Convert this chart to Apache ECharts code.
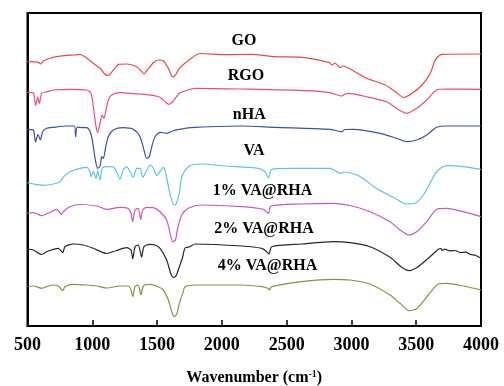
<!DOCTYPE html>
<html>
<head>
<meta charset="utf-8">
<script src="https://cdn.jsdelivr.net/npm/echarts@6/dist/echarts.min.js"></script>
<style>
  html, body { margin: 0; padding: 0; background: #fff; }
  #main { width: 504px; height: 386px; }
</style>
</head>
<body>
<div id="main"></div>
<script>
// FTIR spectra, [wavenumber, offset transmittance (a.u.)]
const goData = [[500,264.3],[583,263.7],[602,262],[622,265],[674,267.7],[725,269.3],[803,270.7],[867,271],[905,271.7],[944,269.3],[1008,262.7],[1060,257.7],[1098,251.7],[1124,250.5],[1142,252.7],[1175,257.7],[1201,261.7],[1266,262],[1343,259.3],[1381,254.3],[1399,252],[1420,255],[1471,263.3],[1510,266],[1548,265.3],[1587,257.7],[1621,249],[1646,251.7],[1672,257.7],[1754,266.7],[1831,272.5],[2024,271.3],[2233,271.7],[2410,269.3],[2619,268.7],[2825,263.7],[2850,261],[2873,263],[2914,258.3],[2935,260],[3005,256],[3107,248.3],[3261,241],[3339,234.3],[3406,228.5],[3468,232.7],[3545,241],[3609,252.7],[3647,266],[3699,271.7],[4000,272]];
const rgoData = [[500,233.7],[545,233.3],[563,220.5],[579,229],[591,222.5],[610,232.7],[648,234.3],[699,236],[828,236.7],[957,236],[990,232.7],[1008,219.3],[1029,199.3],[1042,193.5],[1060,202.7],[1077,211],[1090,207.7],[1106,216],[1124,226],[1150,231],[1214,233.3],[1291,232.7],[1368,232],[1445,231],[1523,228.7],[1574,222.7],[1592,221.7],[1625,225],[1672,232.7],[1741,236],[1793,237.7],[2153,237],[2667,235.3],[2835,233.3],[2925,230],[2950,232],[2989,232.7],[3092,230],[3272,224.3],[3349,217.7],[3427,212.7],[3504,217.7],[3581,226],[3658,236],[3735,237],[4000,236.7]];
const nhaData = [[500,196.7],[545,196],[562,184],[581,191.5],[599,186],[617,194.3],[648,197.7],[699,198.7],[803,200],[861,200],[872,189.3],[884,198.7],[957,198.3],[988,192.7],[1008,179.3],[1026,164.3],[1042,157.7],[1060,160],[1073,169.3],[1085,167.7],[1104,179.3],[1124,189.3],[1162,196],[1239,198.3],[1317,196.7],[1368,189.3],[1399,176],[1420,167.7],[1440,169.3],[1459,179.3],[1484,189.3],[1523,193.7],[1574,192.7],[1625,195.3],[1672,196.7],[1716,197.7],[1793,198.7],[2153,200],[2410,198.7],[2835,196.7],[2925,194.3],[2950,196.5],[3014,196.7],[3221,192.7],[3349,187.7],[3427,184.3],[3504,186],[3581,191],[3658,198.7],[3735,200],[4000,200]];
const vaData = [[500,143.3],[545,142],[622,140.7],[699,142],[751,144.3],[776,149],[828,154.3],[905,157.7],[957,158.7],[982,154.3],[990,149.3],[1008,154.3],[1029,147.5],[1042,155],[1060,146],[1077,157.7],[1111,159.3],[1150,159.3],[1175,157.7],[1214,147],[1239,156],[1266,159.3],[1291,154.3],[1317,148.7],[1343,157.7],[1368,157.7],[1389,148.7],[1415,154.3],[1445,161],[1471,157.7],[1497,150.5],[1523,154.3],[1548,158.7],[1561,156],[1587,140],[1608,128],[1631,121],[1646,122],[1672,132.7],[1690,149],[1729,157.7],[1767,161],[1845,162],[2024,160],[2281,157.7],[2333,154.3],[2359,148],[2385,156.7],[2539,157.7],[2835,157.7],[2914,152.7],[2950,154],[3041,151],[3107,146],[3182,138.5],[3261,132.7],[3349,126.7],[3427,122],[3491,122.7],[3555,131],[3620,146],[3658,154.3],[3735,160.3],[3864,159.3],[4000,156.7]];
const va1Data = [[500,112.7],[545,113.3],[610,110.3],[674,113.7],[725,116.7],[764,111.5],[776,114.3],[828,119.3],[905,121.5],[1034,120],[1111,116.7],[1214,118.7],[1278,117.5],[1299,112.7],[1312,104.3],[1330,116],[1355,117.7],[1374,106.5],[1389,116],[1420,118.7],[1471,118.3],[1523,114.3],[1574,106],[1600,92.7],[1621,84.3],[1642,86],[1656,96],[1690,111],[1741,117.7],[1845,121],[2153,119.3],[2320,116.7],[2359,112.7],[2379,120],[2616,122],[2860,122.7],[3005,120],[3143,114.3],[3298,104.3],[3375,96],[3441,91],[3504,94.3],[3581,104.3],[3658,116.7],[3735,117.7],[3864,114.3],[4000,109.3]];
const va2Data = [[500,77],[545,76],[610,71.5],[648,74.3],[699,76.7],[738,77.7],[772,73.3],[789,79.3],[853,82],[931,81],[1008,77.7],[1111,72.5],[1188,75.5],[1266,78.3],[1299,76],[1312,67],[1330,79.3],[1355,81],[1381,69],[1399,79.3],[1445,81.7],[1484,81],[1523,77.7],[1574,66],[1605,52.7],[1625,48.7],[1646,50],[1672,59.3],[1698,69.3],[1716,78],[1754,79.3],[1793,82],[2153,80],[2307,77.7],[2346,74.3],[2364,72],[2385,79.3],[2616,82],[2860,84.3],[2989,83.3],[3143,79.3],[3298,68.7],[3388,58.7],[3447,55.3],[3508,58.7],[3593,67.7],[3671,76.7],[3690,77.5],[3700,75.8],[3720,76.8],[3760,75.2],[3800,75.5],[3840,73.5],[3880,73.8],[3920,71.5],[3960,70.5],[4000,67.7]];
const va4Data = [[500,39.5],[545,40],[610,37.7],[648,39.3],[699,41],[738,40],[772,35.3],[789,39.3],[853,41.7],[957,41],[1034,40],[1111,38],[1214,40],[1278,40],[1299,36],[1312,29.3],[1330,39.3],[1355,41],[1376,31],[1394,40],[1445,41.7],[1497,40],[1548,36],[1587,26],[1613,14.3],[1631,9.3],[1652,12],[1672,22.7],[1698,32.7],[1716,39.3],[1793,41],[2153,41],[2307,39.3],[2354,37.7],[2366,36],[2385,39.3],[2616,44.3],[2860,46.7],[2989,46],[3143,42],[3298,31],[3375,22.7],[3447,15.3],[3508,17.7],[3593,31],[3671,42],[3735,42.7],[3864,40],[4000,36]];

const names = ['GO', 'RGO', 'nHA', 'VA', '1% VA@RHA', '2% VA@RHA', '4% VA@RHA'];
const colors = ['#EF4545', '#EE4C78', '#3D4FA6', '#5AC6DE', '#C25AC2', '#262626', '#8E8E47'];
const spectra = [goData, rgoData, nhaData, vaData, va1Data, va2Data, va4Data];
const labelPos = [[244, 41.3], [246, 76.3], [249.3, 115.3], [254, 150.7], [262.5, 190.7], [264, 229], [267.5, 265.7]];

const font = '"Liberation Serif", "Times New Roman", serif';
const chart = echarts.init(document.getElementById('main'));

chart.setOption({
  animation: false,
  grid: { left: 27.5, right: 23, top: 13, bottom: 60, outerBoundsMode: 'none', containLabel: false, show: true, borderColor: '#000', borderWidth: 2 },
  xAxis: {
    type: 'value', min: 500, max: 4000, interval: 500,
    name: 'Wavenumber (cm{sup|-1})', nameLocation: 'middle', nameGap: 43,
    nameTextStyle: {
      fontFamily: font, fontWeight: 'bold', fontSize: 16, color: '#000',
      rich: { sup: { fontFamily: font, fontWeight: 'bold', fontSize: 10, color: '#000', verticalAlign: 'top', padding: [0, 0, 8, 0] } }
    },
    axisLine: { lineStyle: { color: '#000', width: 2 } },
    axisTick: { inside: true, length: 6, lineStyle: { color: '#000', width: 1.5 } },
    axisLabel: { fontFamily: font, fontWeight: 'bold', fontSize: 18, color: '#000', margin: 10, formatter: v => String(v) },
    splitLine: { show: false }
  },
  yAxis: {
    type: 'value', min: 0, max: 313,
    axisLine: { show: true, lineStyle: { color: '#000', width: 2 } },
    axisTick: { show: false }, axisLabel: { show: false }, splitLine: { show: false }
  },
  series: spectra.map((d, i) => ({
    name: names[i], type: 'line', data: d, showSymbol: false, smooth: 0.25,
    lineStyle: { color: colors[i], width: 1.2 }
  })),
  graphic: names.map((n, i) => ({
    type: 'text', x: labelPos[i][0], y: labelPos[i][1],
    style: { text: n, font: 'bold 16px ' + font, fill: '#000', align: 'center', verticalAlign: 'middle' }
  }))
});
</script>
</body>
</html>
